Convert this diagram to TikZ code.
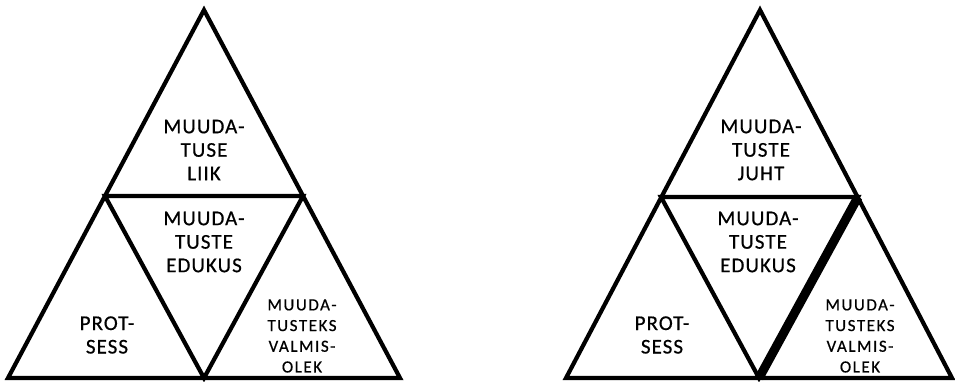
\documentclass[tikz,border=0pt]{standalone}
\usepackage{fontspec}
\setmainfont{Carlito}
\newfontfamily\lblfont[LetterSpace=5,FakeBold=0.6]{Carlito}
\newfontfamily\smallfont[LetterSpace=9,FakeBold=0.6]{Carlito}
\begin{document}
\begin{tikzpicture}[x=1pt,y=-1pt,
  edge/.style={line width=4.2pt,line join=miter,line cap=butt},
  heavy/.style={line width=9pt,line cap=butt},
  lbl/.style={align=center,inner sep=0pt,font=\lblfont\fontsize{21}{23.5}\selectfont},
  lblsmall/.style={align=center,inner sep=0pt,font=\smallfont\fontsize{17}{20.7}\selectfont}]
\useasboundingbox (0,0) rectangle (955,381);
\begin{scope}
\clip (0,0) rectangle (955,381);
% left pyramid
\coordinate (la) at (204,10);
\coordinate (lbl) at (8,378);
\coordinate (lbr) at (400,378);
\coordinate (lml) at (105,196);
\coordinate (lmr) at (303,196);
\coordinate (lmb) at (204,378);
\draw[edge] (la) -- (lbr) -- (lbl) -- cycle;
\draw[edge] (lml) -- (lmr) -- (lmb) -- cycle;
% right pyramid
\coordinate (ra) at (760,10);
\coordinate (rbl) at (566,378);
\coordinate (rbr) at (952,378);
\coordinate (rml) at (661,197);
\coordinate (rmr) at (858,197);
\coordinate (rmb) at (759,378);
\draw[edge] (ra) -- (rbr) -- (rbl) -- cycle;
\draw[edge] (rml) -- (rmr) -- (rmb) -- cycle;
\draw[heavy] (rmr) -- (rmb);
\end{scope}
% labels, left
\node[lbl] (ltop) at (204,150) {MUUDA-\\TUSE\\LIIK};
\node[lbl] (lmid) at (204,242) {MUUDA-\\TUSTE\\EDUKUS};
\node[lbl] (lproc) at (107,335) {PROT-\\SESS};
\node[lblsmall] (lready) at (302,336) {MUUDA-\\TUSTEKS\\VALMIS-\\OLEK};
% labels, right
\node[lbl] (rtop) at (761,150) {MUUDA-\\TUSTE\\JUHT};
\node[lbl] (rmid) at (758,242) {MUUDA-\\TUSTE\\EDUKUS};
\node[lbl] (rproc) at (662,335) {PROT-\\SESS};
\node[lblsmall] (rready) at (860,336) {MUUDA-\\TUSTEKS\\VALMIS-\\OLEK};
\end{tikzpicture}
\end{document}
